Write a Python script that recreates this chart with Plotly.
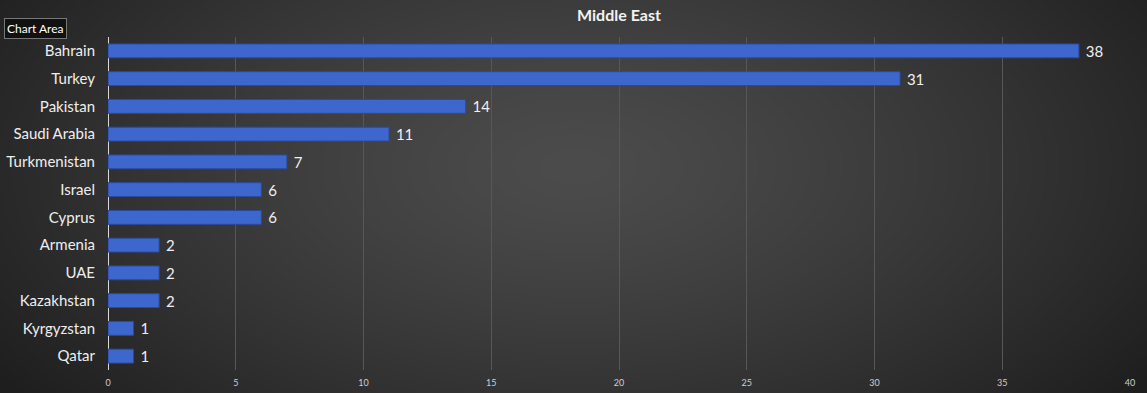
import base64, struct, zlib
import numpy as np
import plotly.graph_objects as go

countries = ["Bahrain", "Turkey", "Pakistan", "Saudi Arabia", "Turkmenistan", "Israel",
             "Cyprus", "Armenia", "UAE", "Kazakhstan", "Kyrgyzstan", "Qatar"]
counts = [38, 31, 14, 11, 7, 6, 6, 2, 2, 2, 1, 1]
x_ticks = [0, 5, 10, 15, 20, 25, 30, 35, 40]
title_text = "Middle East"

W, H = 1147, 393
ML, MR, MT, MB = 108, 17, 37, 23
PW, PH = W - ML - MR, H - MT - MB
FONT = "Lato, Open Sans, sans-serif"


def radial_png(w, h):
    yy, xx = np.mgrid[0:h, 0:w].astype(float)
    cx, cy = w * 0.5, h * 0.42
    d = np.sqrt(((xx - cx) / (w * 0.62)) ** 2 + ((yy - cy) / (h * 0.95)) ** 2)
    d = np.clip(d, 0, 1)
    inner, outer = 76.0, 30.0
    v = inner + (outer - inner) * d ** 1.3
    img = np.clip(v, 0, 255).astype(np.uint8)
    rgb = np.stack([img, img, img], axis=-1)
    raw = b"".join(b"\x00" + rgb[r].tobytes() for r in range(h))

    def chunk(tag, data):
        c = struct.pack(">I", len(data)) + tag + data
        return c + struct.pack(">I", zlib.crc32(tag + data) & 0xFFFFFFFF)

    png = b"\x89PNG\r\n\x1a\n" + chunk(b"IHDR", struct.pack(">IIBBBBB", w, h, 8, 2, 0, 0, 0))
    png += chunk(b"IDAT", zlib.compress(raw, 9)) + chunk(b"IEND", b"")
    return "data:image/png;base64," + base64.b64encode(png).decode()


bg = radial_png(574, 197)

fig = go.Figure()
fig.add_trace(go.Bar(
    y=countries, x=counts, orientation="h",
    marker=dict(color="#3d67cd", line=dict(color="#2a4a9e", width=1)),
    texttemplate="\u00a0%{x}", textposition="outside", cliponaxis=False,
    constraintext="none",
    textfont=dict(color="#f0f0f0", size=15, family=FONT),
    width=0.5,
))

fig.update_layout(
    width=W, height=H,
    margin=dict(l=ML, r=MR, t=MT, b=MB, autoexpand=False),
    paper_bgcolor="#2a2a2a", plot_bgcolor="rgba(0,0,0,0)",
    showlegend=False,
    title=dict(text="<b>" + title_text + "</b>", x=0.5, xref="paper", xanchor="center",
               y=1 - 15 / H, yanchor="middle",
               font=dict(color="#f2f2f2", size=16, family=FONT)),
    xaxis=dict(range=[0, 40], tickvals=x_ticks, ticktext=[str(t) for t in x_ticks],
               showgrid=True, gridcolor="#575757", gridwidth=1,
               zeroline=True, zerolinecolor="#d8d8d8", zerolinewidth=1,
               tickfont=dict(color="#cfcfcf", size=9, family=FONT),
               ticks="", ticklabelstandoff=6, fixedrange=True, automargin=False),
    yaxis=dict(categoryorder="array", categoryarray=countries[::-1],
               tickfont=dict(color="#eeeeee", size=15, family=FONT),
               ticks="", ticklabelstandoff=12, showgrid=False, fixedrange=True,
               automargin=False),
    bargap=0.5,
    images=[dict(source=bg, xref="paper", yref="paper",
                 x=-ML / PW, y=1 + MT / PH, sizex=W / PW, sizey=H / PH,
                 sizing="stretch", xanchor="left", yanchor="top", layer="below")],
    annotations=[dict(text="Chart Area", xref="paper", yref="paper",
                      x=-ML / PW + 4 / PW, y=1 + (MT - 18) / PH,
                      xanchor="left", yanchor="top", showarrow=False,
                      font=dict(color="#ffffff", size=12, family=FONT),
                      bgcolor="#111111", bordercolor="#777777", borderwidth=1, borderpad=2)],
)

fig.write_html("out.html", config={"displayModeBar": False},
               post_script="document.body.style.margin='0';document.body.style.overflow='hidden';")
